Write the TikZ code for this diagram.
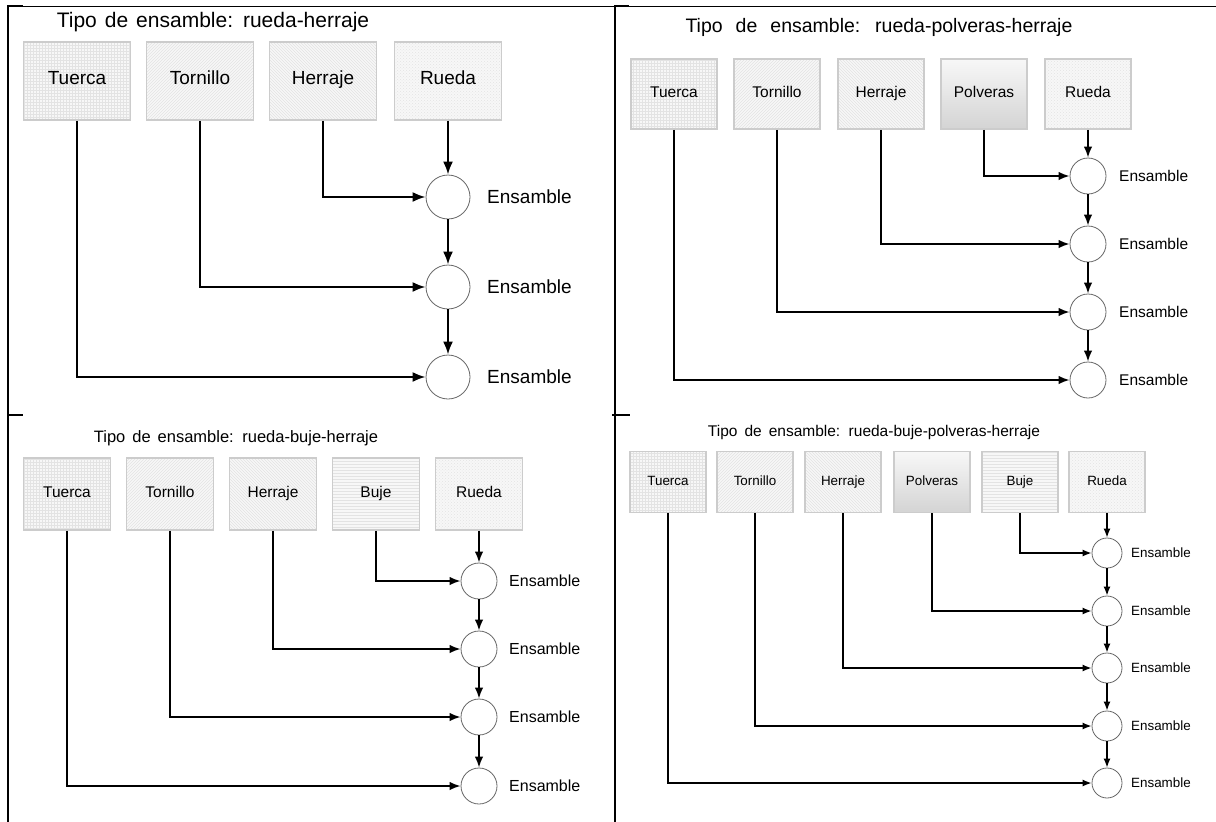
\documentclass[tikz,border=0pt]{standalone}
\usepackage{fontspec}
\setmainfont{Liberation Sans}
\usetikzlibrary{arrows.meta,patterns}

\begin{document}
\begin{tikzpicture}[x=1pt,y=-1pt,
	pieza/.style={draw=black!20,line width=1.5pt,inner sep=0pt,text height=0.72em,text depth=0pt,preaction={fill=black!3},pattern color=black!11},
	tuerca/.style={pieza,pattern=grid},
	tornillo/.style={pieza,pattern=north east lines},
	herraje/.style={pieza,pattern=north west lines},
	rueda/.style={pieza,pattern=crosshatch dots},
	buje/.style={pieza,pattern=horizontal lines},
	polveras/.style={pieza,top color=black!3,bottom color=black!17},
	ensamble/.style={circle,draw=black!60,line width=0.8pt,fill=white,inner sep=0pt},
	rotulo/.style={anchor=west,inner sep=0pt},
	titulo/.style={inner sep=0pt},
	union/.style={draw,line width=1.8pt,-{Latex[length=11pt,width=8.5pt]}},
	marco/.style={line width=2pt}]
	\useasboundingbox (0,0) rectangle (1216,822);

	\draw [line width=1pt] (8,6) -- (1216,6);
	\draw [marco] (8,6) -- (23,6);
	\draw [marco] (615,6) -- (629,6);
	\draw [marco] (8,5) -- (8,822);
	\draw [marco] (615,5) -- (615,822);
	\draw [marco] (8,415) -- (23,415);
	\draw [marco] (612,415) -- (630,415);

	% rueda-herraje
	\begin{scope}[pieza/.append style={minimum width=107pt,minimum height=78pt,font=\fontsize{19}{22}\selectfont},
		ensamble/.append style={minimum size=44pt},
		rotulo/.append style={font=\fontsize{19}{22}\selectfont},
		union/.append style={line width=2.2pt,-{Latex[length=13pt,width=10pt]}}]
	\node [titulo,font={\fontsize{21}{25}\selectfont\spaceskip=8pt\relax}] (TIT_A) at (213,22) {Tipo de ensamble: rueda-herraje};
	\node [tuerca] (TUERCA_A) at (77,81) {Tuerca};
	\node [tornillo] (TORNILLO_A) at (200,81) {Tornillo};
	\node [herraje] (HERRAJE_A) at (323,81) {Herraje};
	\node [rueda] (RUEDA_A) at (448,81) {Rueda};
	\node [ensamble] (ENS_A1) at (448,197) {};
	\node [ensamble] (ENS_A2) at (448,287) {};
	\node [ensamble] (ENS_A3) at (448,377) {};
	\node [rotulo] (ROT_A1) at (487,197) {Ensamble};
	\node [rotulo] (ROT_A2) at (487,287) {Ensamble};
	\node [rotulo] (ROT_A3) at (487,377) {Ensamble};
	\draw [union] (RUEDA_A) -- (ENS_A1);
	\draw [union] (HERRAJE_A) |- (ENS_A1);
	\draw [union] (TORNILLO_A) |- (ENS_A2);
	\draw [union] (TUERCA_A) |- (ENS_A3);
	\draw [union] (ENS_A1) -- (ENS_A2);
	\draw [union] (ENS_A2) -- (ENS_A3);
	\end{scope}

	% rueda-polveras-herraje
	\begin{scope}[pieza/.append style={minimum width=86pt,minimum height=70pt,font=\fontsize{15.5}{18}\selectfont},
		ensamble/.append style={minimum size=36pt},
		rotulo/.append style={font=\fontsize{15.5}{18}\selectfont}]
	\node [titulo,font={\fontsize{19.5}{23}\selectfont\spaceskip=13pt\relax}] (TIT_B) at (879,27) {Tipo de ensamble: rueda-polveras-herraje};
	\node [tuerca] (TUERCA_B) at (674,94) {Tuerca};
	\node [tornillo] (TORNILLO_B) at (777,94) {Tornillo};
	\node [herraje] (HERRAJE_B) at (881,94) {Herraje};
	\node [polveras] (POLVERAS_B) at (984,94) {Polveras};
	\node [rueda] (RUEDA_B) at (1088,94) {Rueda};
	\node [ensamble] (ENS_B1) at (1088,176) {};
	\node [ensamble] (ENS_B2) at (1088,244) {};
	\node [ensamble] (ENS_B3) at (1088,312) {};
	\node [ensamble] (ENS_B4) at (1088,380) {};
	\node [rotulo] (ROT_B1) at (1119,176) {Ensamble};
	\node [rotulo] (ROT_B2) at (1119,244) {Ensamble};
	\node [rotulo] (ROT_B3) at (1119,312) {Ensamble};
	\node [rotulo] (ROT_B4) at (1119,380) {Ensamble};
	\draw [union] (RUEDA_B) -- (ENS_B1);
	\draw [union] (POLVERAS_B) |- (ENS_B1);
	\draw [union] (HERRAJE_B) |- (ENS_B2);
	\draw [union] (TORNILLO_B) |- (ENS_B3);
	\draw [union] (TUERCA_B) |- (ENS_B4);
	\draw [union] (ENS_B1) -- (ENS_B2);
	\draw [union] (ENS_B2) -- (ENS_B3);
	\draw [union] (ENS_B3) -- (ENS_B4);
	\end{scope}

	% rueda-buje-herraje
	\begin{scope}[pieza/.append style={minimum width=87pt,minimum height=72pt,font=\fontsize{15.5}{18}\selectfont},
		ensamble/.append style={minimum size=36pt},
		rotulo/.append style={font=\fontsize{16}{19}\selectfont}]
	\node [titulo,font={\fontsize{16.5}{20}\selectfont\spaceskip=7pt\relax}] (TIT_C) at (236,438) {Tipo de ensamble: rueda-buje-herraje};
	\node [tuerca] (TUERCA_C) at (67,494) {Tuerca};
	\node [tornillo] (TORNILLO_C) at (170,494) {Tornillo};
	\node [herraje] (HERRAJE_C) at (273,494) {Herraje};
	\node [buje] (BUJE_C) at (376,494) {Buje};
	\node [rueda] (RUEDA_C) at (479,494) {Rueda};
	\node [ensamble] (ENS_C1) at (479,581) {};
	\node [ensamble] (ENS_C2) at (479,649) {};
	\node [ensamble] (ENS_C3) at (479,717) {};
	\node [ensamble] (ENS_C4) at (479,786) {};
	\node [rotulo] (ROT_C1) at (509,581) {Ensamble};
	\node [rotulo] (ROT_C2) at (509,649) {Ensamble};
	\node [rotulo] (ROT_C3) at (509,717) {Ensamble};
	\node [rotulo] (ROT_C4) at (509,786) {Ensamble};
	\draw [union] (RUEDA_C) -- (ENS_C1);
	\draw [union] (BUJE_C) |- (ENS_C1);
	\draw [union] (HERRAJE_C) |- (ENS_C2);
	\draw [union] (TORNILLO_C) |- (ENS_C3);
	\draw [union] (TUERCA_C) |- (ENS_C4);
	\draw [union] (ENS_C1) -- (ENS_C2);
	\draw [union] (ENS_C2) -- (ENS_C3);
	\draw [union] (ENS_C3) -- (ENS_C4);
	\end{scope}

	% rueda-buje-polveras-herraje
	\begin{scope}[pieza/.append style={minimum width=76pt,minimum height=61pt,font=\fontsize{13.4}{16}\selectfont},
		ensamble/.append style={minimum size=30pt},
		rotulo/.append style={font=\fontsize{13.4}{16}\selectfont},
		union/.append style={line width=1.5pt,-{Latex[length=9pt,width=7pt]}}]
	\node [titulo,font={\fontsize{15.5}{19}\selectfont\spaceskip=7pt\relax}] (TIT_D) at (874,432) {Tipo de ensamble: rueda-buje-polveras-herraje};
	\node [tuerca] (TUERCA_D) at (668,482) {Tuerca};
	\node [tornillo] (TORNILLO_D) at (755,482) {Tornillo};
	\node [herraje] (HERRAJE_D) at (843,482) {Herraje};
	\node [polveras] (POLVERAS_D) at (932,482) {Polveras};
	\node [buje] (BUJE_D) at (1020,482) {Buje};
	\node [rueda] (RUEDA_D) at (1107,482) {Rueda};
	\node [ensamble] (ENS_D1) at (1107,553) {};
	\node [ensamble] (ENS_D2) at (1107,611) {};
	\node [ensamble] (ENS_D3) at (1107,668) {};
	\node [ensamble] (ENS_D4) at (1107,726) {};
	\node [ensamble] (ENS_D5) at (1107,783) {};
	\node [rotulo] (ROT_D1) at (1131,553) {Ensamble};
	\node [rotulo] (ROT_D2) at (1131,611) {Ensamble};
	\node [rotulo] (ROT_D3) at (1131,668) {Ensamble};
	\node [rotulo] (ROT_D4) at (1131,726) {Ensamble};
	\node [rotulo] (ROT_D5) at (1131,783) {Ensamble};
	\draw [union] (RUEDA_D) -- (ENS_D1);
	\draw [union] (BUJE_D) |- (ENS_D1);
	\draw [union] (POLVERAS_D) |- (ENS_D2);
	\draw [union] (HERRAJE_D) |- (ENS_D3);
	\draw [union] (TORNILLO_D) |- (ENS_D4);
	\draw [union] (TUERCA_D) |- (ENS_D5);
	\draw [union] (ENS_D1) -- (ENS_D2);
	\draw [union] (ENS_D2) -- (ENS_D3);
	\draw [union] (ENS_D3) -- (ENS_D4);
	\draw [union] (ENS_D4) -- (ENS_D5);
	\end{scope}
\end{tikzpicture}
\end{document}
